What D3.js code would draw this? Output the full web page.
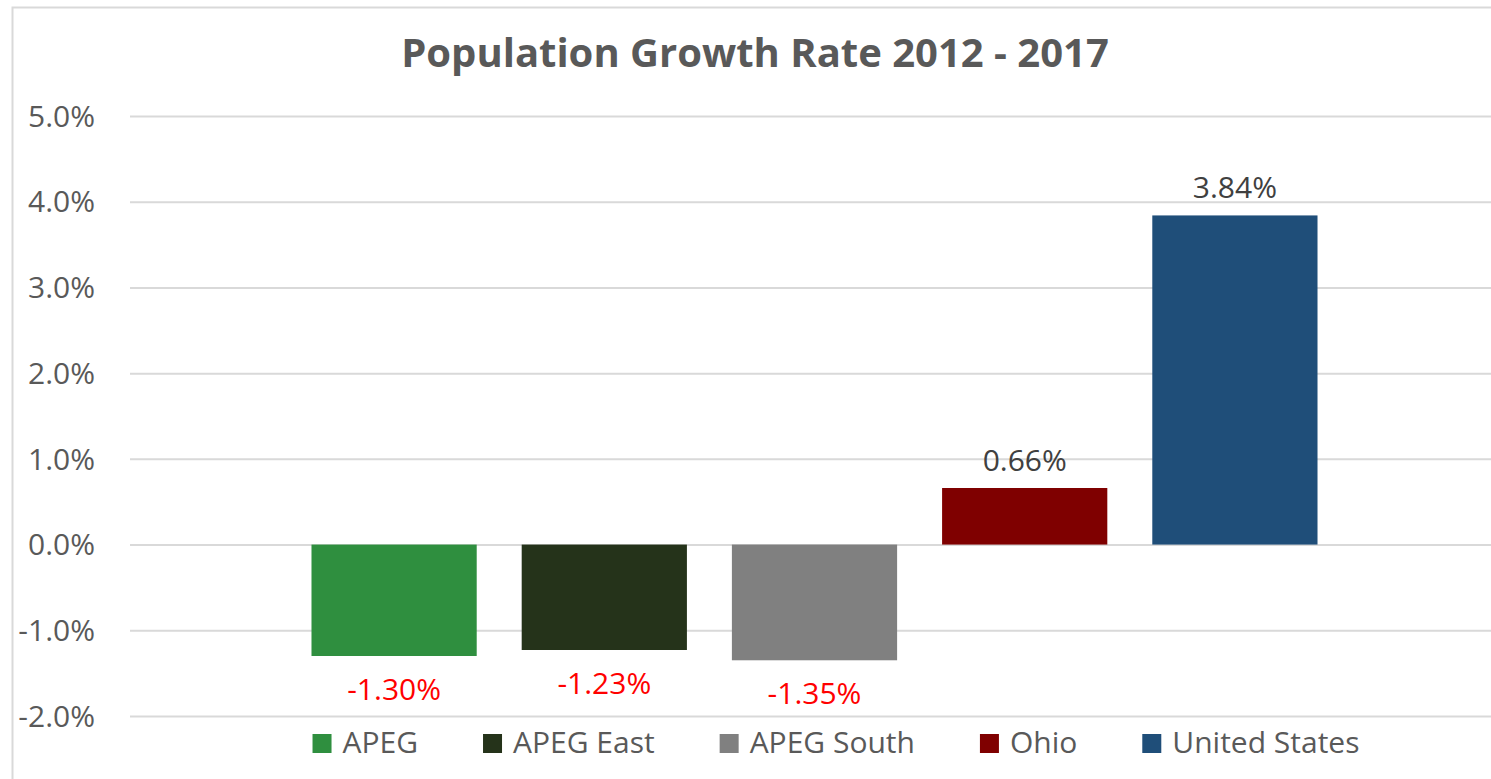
<!DOCTYPE html>
<html>
<head>
<meta charset="utf-8">
<script src="https://cdn.jsdelivr.net/npm/d3@7"></script>
<style>
  body { margin: 0; background: #fff; }
  svg { display: block; font-family: "Open Sans", sans-serif; }
</style>
</head>
<body>
<div class="barChart"></div>
<script>
const WIDTH = 1491;
const HEIGHT = 779;

var categories = ['APEG', 'APEG East', 'APEG South', 'Ohio', 'United States'];
var values = [-1.30, -1.23, -1.35, 0.66, 3.84];
var colors = ['#2f8f3f', '#25331a', '#808080', '#7f0000', '#1f4e79'];
var yTicks = [-2, -1, 0, 1, 2, 3, 4, 5];

var data = categories.map(function (c, i) {
    return {name: c, value: values[i], color: colors[i]};
});

var xScale = d3.scaleBand().domain(categories).range([289, 1340])
    .paddingInner(0.214).paddingOuter(0.107);
var yScale = d3.scaleLinear().domain([-2, 5]).range([716, 116]);

var svg = d3.select('.barChart').append('svg')
    .attr('width', WIDTH)
    .attr('height', HEIGHT);

// outer frame
svg.append('path')
    .attr('d', 'M12.5,' + HEIGHT + 'V7.5H' + WIDTH)
    .attr('fill', 'none')
    .attr('stroke', '#d9d9d9')
    .attr('stroke-width', 2);

// title
svg.append('text')
    .attr('x', 755)
    .attr('y', 67)
    .attr('text-anchor', 'middle')
    .attr('font-size', 40)
    .attr('font-weight', 'bold')
    .attr('fill', '#595959')
    .text('Population Growth Rate 2012 - 2017');

// y axis with gridlines
var yAxis = d3.axisLeft(yScale)
    .tickValues(yTicks)
    .tickSize(-(WIDTH - 130))
    .tickPadding(35)
    .tickFormat(function (t) { return t.toFixed(1) + '%'; });

var yAxisG = svg.append('g')
    .attr('transform', 'translate(130,0)')
    .call(yAxis);
yAxisG.select('.domain').remove();
yAxisG.selectAll('.tick line').attr('stroke', '#d9d9d9').attr('stroke-width', 2);
yAxisG.selectAll('.tick text')
    .attr('font-size', 30)
    .attr('font-family', '"Open Sans", sans-serif')
    .attr('fill', '#595959')
    .attr('dy', '0.34em');

// bars
svg.append('g').selectAll('rect').data(data).enter().append('rect')
    .attr('x', function (d) { return xScale(d.name); })
    .attr('width', xScale.bandwidth())
    .attr('y', function (d) { return yScale(Math.max(0, d.value)); })
    .attr('height', function (d) { return Math.abs(yScale(d.value) - yScale(0)); })
    .attr('fill', function (d) { return d.color; });

// value labels
svg.append('g').selectAll('text').data(data).enter().append('text')
    .attr('x', function (d) { return xScale(d.name) + xScale.bandwidth() / 2; })
    .attr('y', function (d) {
        return d.value < 0 ? yScale(d.value) + 44 : yScale(d.value) - 17;
    })
    .attr('text-anchor', 'middle')
    .attr('font-size', 30)
    .attr('fill', function (d) { return d.value < 0 ? '#ff0000' : '#404040'; })
    .text(function (d) { return d.value.toFixed(2) + '%'; });

// legend
var legend = svg.append('g');
var items = legend.selectAll('g').data(data).enter().append('g');
items.append('rect')
    .attr('width', 19)
    .attr('height', 19)
    .attr('y', 734)
    .attr('fill', function (d) { return d.color; });
items.append('text')
    .attr('x', 30)
    .attr('y', 753)
    .attr('font-size', 30)
    .attr('fill', '#595959')
    .text(function (d) { return d.name; });

var pos = 0;
items.each(function () {
    var g = d3.select(this);
    g.attr('transform', 'translate(' + pos + ',0)');
    pos += 30 + g.select('text').node().getComputedTextLength() + 65;
});
var legendWidth = pos - 65;
legend.attr('transform', 'translate(' + (836 - legendWidth / 2) + ',0)');
</script>
</body>
</html>
